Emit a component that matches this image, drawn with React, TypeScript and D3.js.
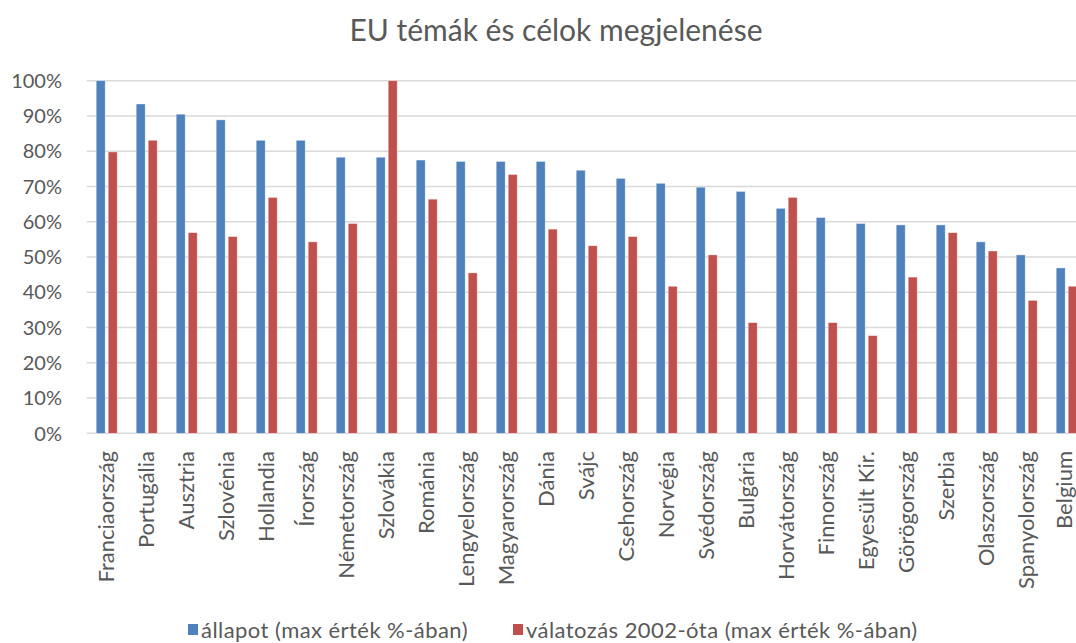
import React, { useEffect, useRef } from "react";
import * as d3 from "d3";

const categories = [
  "Franciaország", "Portugália", "Ausztria", "Szlovénia", "Hollandia", "Írország",
  "Németország", "Szlovákia", "Románia", "Lengyelország", "Magyarország", "Dánia",
  "Svájc", "Csehország", "Norvégia", "Svédország", "Bulgária", "Horvátország",
  "Finnország", "Egyesült Kir.", "Görögország", "Szerbia", "Olaszország",
  "Spanyolország", "Belgium",
];
const allapot = [
  1.0, 0.934, 0.905, 0.889, 0.831, 0.831, 0.783, 0.783, 0.775, 0.771, 0.771, 0.771,
  0.746, 0.723, 0.709, 0.698, 0.686, 0.638, 0.612, 0.595, 0.591, 0.591, 0.543,
  0.506, 0.469,
];
const valtozas = [
  0.798, 0.831, 0.569, 0.558, 0.669, 0.543, 0.595, 1.0, 0.664, 0.455, 0.734, 0.579,
  0.532, 0.558, 0.417, 0.506, 0.314, 0.669, 0.314, 0.277, 0.443, 0.569, 0.517,
  0.377, 0.417,
];
const seriesNames = ["állapot (max érték %-ában)", "válatozás 2002-óta (max érték %-ában)"];
const seriesColors = ["#4F81BD", "#C0504D"];
const yTicks = [0, 0.1, 0.2, 0.3, 0.4, 0.5, 0.6, 0.7, 0.8, 0.9, 1.0];
const title = "EU témák és célok megjelenése";

const W = 1076;
const H = 643;
const FONT = "Lato, 'Open Sans', sans-serif";
const TEXT = "#595959";

export default function App() {
  const ref = useRef<SVGSVGElement | null>(null);

  useEffect(() => {
    document.body.style.margin = "0";
    const svg = d3.select(ref.current);
    svg.selectAll("*").remove();

    const left = 86.7;
    const x0 = d3.scaleBand<string>().domain(categories).range([left, left + 40 * categories.length]).padding(0);
    const x1 = d3.scaleBand<number>().domain([0, 1]).range([9.5, 30.5]).paddingInner(0.25);
    const y = d3.scaleLinear().domain([0, 1]).range([433.3, 80.7]);

    svg.append("rect").attr("width", W).attr("height", H).attr("fill", "#fff");

    // title
    svg.append("text")
      .attr("x", 556).attr("y", 41)
      .attr("text-anchor", "middle")
      .attr("font-family", FONT)
      .attr("font-size", 30)
      .attr("fill", TEXT)
      .text(title);

    // gridlines
    svg.append("g").selectAll("line").data(yTicks).join("line")
      .attr("x1", left).attr("x2", W)
      .attr("y1", (d) => y(d)).attr("y2", (d) => y(d))
      .attr("stroke", "#d9d9d9").attr("stroke-width", 1.5);

    // y labels
    svg.append("g").selectAll("text").data(yTicks).join("text")
      .attr("x", 62).attr("y", (d) => y(d))
      .attr("dy", "0.36em")
      .attr("text-anchor", "end")
      .attr("font-family", FONT)
      .attr("font-size", 20)
      .attr("fill", TEXT)
      .text((d) => d3.format(".0%")(d));

    // bars
    const data = [allapot, valtozas];
    const g = svg.append("g");
    categories.forEach((c, i) => {
      data.forEach((s, k) => {
        g.append("rect")
          .attr("x", (x0(c) as number) + (x1(k) as number))
          .attr("y", y(s[i]))
          .attr("width", x1.bandwidth())
          .attr("height", y(0) - y(s[i]))
          .attr("fill", seriesColors[k])
          .attr("stroke", "#ffffff")
          .attr("stroke-opacity", 0.5)
          .attr("stroke-width", 0.75);
      });
    });

    // x labels
    svg.append("g").selectAll("text").data(categories).join("text")
      .attr("transform", (d) => `translate(${Math.min((x0(d) as number) + x0.bandwidth() / 2, W - 12)},451) rotate(-90)`)
      .attr("dy", "0.35em")
      .attr("text-anchor", "end")
      .attr("font-family", FONT)
      .attr("font-size", 22)
      .attr("fill", TEXT)
      .text((d) => d);

    // legend
    const legendX = [188, 513];
    seriesNames.forEach((n, k) => {
      svg.append("rect")
        .attr("x", legendX[k]).attr("y", 624)
        .attr("width", 10).attr("height", 11)
        .attr("fill", seriesColors[k]);
      svg.append("text")
        .attr("x", legendX[k] + 13).attr("y", 630)
        .attr("dy", "0.36em")
        .attr("font-family", FONT)
        .attr("font-size", 22)
        .attr("letter-spacing", 0.45)
        .attr("fill", TEXT)
        .text(n);
    });
  }, []);

  return (
    <svg ref={ref} width={W} height={H} style={{ position: "absolute", left: 0, top: 0, display: "block" }} />
  );
}
